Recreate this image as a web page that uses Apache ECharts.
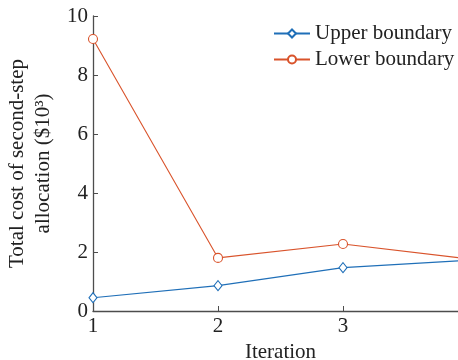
<!DOCTYPE html>
<html>
<head>
<meta charset="utf-8">
<script src="https://cdn.jsdelivr.net/npm/echarts@6/dist/echarts.min.js"></script>
<style>
  html, body { margin: 0; padding: 0; background: #fff; }
  #chart { width: 458px; height: 360px; }
</style>
</head>
<body>
<div id="chart"></div>
<script>
// 迭代次数
const iterations = [1, 2, 3, 4]
// 上界 / 下界 (单位 $10^3)
const upperBoundary = [0.45, 0.86, 1.47, 1.72]
const lowerBoundary = [9.22, 1.80, 2.27, 1.77]
const yTicks = [0, 2, 4, 6, 8, 10]

const font = 'Liberation Serif'
const axisColor = '#4d4d4d'
const blue = '#1f6fb8'
const red = '#d9532b'

const chart = echarts.init(document.getElementById('chart'))
const opt = {
    animation: false,
    grid: {
        left: 93,
        top: 16,
        bottom: 49,
        right: -10,
        outerBoundsMode: 'none',
        containLabel: false
    },
    legend: {
        orient: 'vertical',
        left: 268,
        top: 18,
        itemWidth: 36,
        itemHeight: 10,
        itemGap: 5,
        textStyle: { fontFamily: font, fontSize: 21, color: '#222' },
        data: ['Upper boundary', 'Lower boundary']
    },
    xAxis: {
        type: 'value',
        min: 1,
        max: 4,
        interval: 1,
        name: 'Iteration',
        nameLocation: 'middle',
        nameGap: 30,
        nameTextStyle: { fontFamily: font, fontSize: 21, color: '#222' },
        axisLine: { lineStyle: { color: axisColor, width: 1.3 } },
        axisTick: { inside: true, length: 5, lineStyle: { color: axisColor } },
        axisLabel: { fontFamily: font, fontSize: 21, color: '#222', margin: 5 },
        splitLine: { show: false }
    },
    yAxis: {
        type: 'value',
        min: yTicks[0],
        max: yTicks[yTicks.length - 1],
        interval: 2,
        name: 'Total cost of second-step\nallocation ($10³)',
        nameLocation: 'middle',
        nameGap: 34,
        nameTextStyle: { fontFamily: font, fontSize: 21, color: '#222', lineHeight: 26 },
        axisLine: { show: true, lineStyle: { color: axisColor, width: 1.3 } },
        axisTick: { show: true, inside: true, length: 5, lineStyle: { color: axisColor } },
        axisLabel: { fontFamily: font, fontSize: 21, color: '#222', margin: 5 },
        splitLine: { show: false }
    },
    series: [
        {
            name: 'Upper boundary',
            type: 'line',
            data: iterations.map((x, i) => [x, upperBoundary[i]]),
            symbol: 'diamond',
            symbolSize: [8, 10],
            clip: false,
            lineStyle: { width: 1.1, color: blue },
            itemStyle: { color: '#fff', borderColor: blue, borderWidth: 1.1 }
        },
        {
            name: 'Lower boundary',
            type: 'line',
            data: iterations.map((x, i) => [x, lowerBoundary[i]]),
            symbol: 'circle',
            symbolSize: 9,
            clip: false,
            lineStyle: { width: 1.1, color: red },
            itemStyle: { color: '#fff', borderColor: red, borderWidth: 1.1 }
        }
    ]
}
chart.setOption(opt)
</script>
</body>
</html>
